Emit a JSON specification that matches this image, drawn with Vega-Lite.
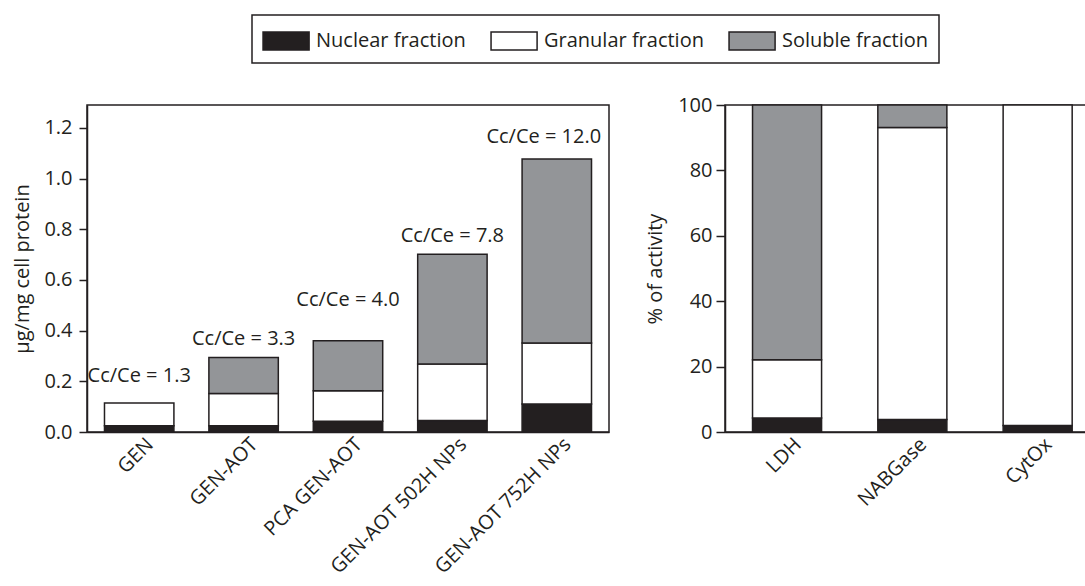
{
  "$schema": "https://vega.github.io/schema/vega-lite/v6.json",
  "padding": {"left": 12, "top": 14, "right": 0, "bottom": 0},
  "background": "white",
  "datasets": {
    "left": [
      {"sample": "GEN", "fraction": "Nuclear fraction", "value": 0.025},
      {"sample": "GEN", "fraction": "Granular fraction", "value": 0.089},
      {"sample": "GEN-AOT", "fraction": "Nuclear fraction", "value": 0.025},
      {"sample": "GEN-AOT", "fraction": "Granular fraction", "value": 0.127},
      {"sample": "GEN-AOT", "fraction": "Soluble fraction", "value": 0.142},
      {"sample": "PCA GEN-AOT", "fraction": "Nuclear fraction", "value": 0.042},
      {"sample": "PCA GEN-AOT", "fraction": "Granular fraction", "value": 0.121},
      {"sample": "PCA GEN-AOT", "fraction": "Soluble fraction", "value": 0.197},
      {"sample": "GEN-AOT 502H NPs", "fraction": "Nuclear fraction", "value": 0.045},
      {"sample": "GEN-AOT 502H NPs", "fraction": "Granular fraction", "value": 0.223},
      {"sample": "GEN-AOT 502H NPs", "fraction": "Soluble fraction", "value": 0.433},
      {"sample": "GEN-AOT 752H NPs", "fraction": "Nuclear fraction", "value": 0.110},
      {"sample": "GEN-AOT 752H NPs", "fraction": "Granular fraction", "value": 0.241},
      {"sample": "GEN-AOT 752H NPs", "fraction": "Soluble fraction", "value": 0.726}
    ],
    "labels": [
      {"sample": "GEN", "label": "Cc/Ce = 1.3", "total": 0.114},
      {"sample": "GEN-AOT", "label": "Cc/Ce = 3.3", "total": 0.294},
      {"sample": "PCA GEN-AOT", "label": "Cc/Ce = 4.0", "total": 0.360},
      {"sample": "GEN-AOT 502H NPs", "label": "Cc/Ce = 7.8", "total": 0.701},
      {"sample": "GEN-AOT 752H NPs", "label": "Cc/Ce = 12.0", "total": 1.077}
    ],
    "right": [
      {"enzyme": "LDH", "fraction": "Nuclear fraction", "value": 4.3},
      {"enzyme": "LDH", "fraction": "Granular fraction", "value": 17.8},
      {"enzyme": "LDH", "fraction": "Soluble fraction", "value": 77.9},
      {"enzyme": "NABGase", "fraction": "Nuclear fraction", "value": 3.8},
      {"enzyme": "NABGase", "fraction": "Granular fraction", "value": 89.3},
      {"enzyme": "NABGase", "fraction": "Soluble fraction", "value": 6.9},
      {"enzyme": "CytOx", "fraction": "Nuclear fraction", "value": 2.0},
      {"enzyme": "CytOx", "fraction": "Granular fraction", "value": 98.0}
    ],
    "fraction_order": [
      {"fraction": "Nuclear fraction", "stack_order": 0},
      {"fraction": "Granular fraction", "stack_order": 1},
      {"fraction": "Soluble fraction", "stack_order": 2}
    ]
  },
  "config": {
    "font": "Open Sans",
    "view": {"stroke": "#231f20", "strokeWidth": 1.5},
    "axis": {
      "labelFont": "Open Sans", "titleFont": "Open Sans",
      "labelFontSize": 20, "titleFontSize": 20, "titleFontWeight": "normal",
      "labelColor": "#231f20", "titleColor": "#231f20",
      "domainColor": "#231f20", "tickColor": "#231f20",
      "domainWidth": 1.5, "tickWidth": 1.5, "grid": false
    },
    "axisX": {"ticks": false, "labelAngle": -45, "title": null, "labelPadding": 2, "labelOffset": 4, "labelLimit": 400},
    "legend": {"strokeWidth": 1.5},
    "text": {"font": "Open Sans", "fontSize": 20, "color": "#231f20"}
  },
  "spacing": 34,
  "resolve": {"scale": {"color": "shared"}, "legend": {"color": "shared"}},
  "hconcat": [
    {
      "width": 522,
      "height": 327,
      "layer": [
        {
          "data": {"name": "left"},
          "transform": [{"lookup": "fraction", "from": {"data": {"name": "fraction_order"}, "key": "fraction", "fields": ["stack_order"]}}],
          "mark": {"type": "bar", "stroke": "#231f20", "strokeWidth": 1.5},
          "encoding": {
            "x": {"field": "sample", "type": "nominal",
              "sort": ["GEN", "GEN-AOT", "PCA GEN-AOT", "GEN-AOT 502H NPs", "GEN-AOT 752H NPs"],
              "scale": {"paddingInner": 0.335, "paddingOuter": 0.1675},
              "axis": {"title": null}},
            "y": {"field": "value", "type": "quantitative", "stack": "zero",
              "scale": {"domain": [0, 1.29], "nice": false},
              "axis": {"title": "µg/mg cell protein", "values": [0, 0.2, 0.4, 0.6, 0.8, 1.0, 1.2], "format": ".1f", "tickSize": 8, "labelPadding": 7, "titlePadding": 11}},
            "order": {"field": "stack_order", "type": "quantitative"},
            "color": {"field": "fraction", "type": "nominal",
              "sort": ["Nuclear fraction", "Granular fraction", "Soluble fraction"],
              "scale": {"domain": ["Nuclear fraction", "Granular fraction", "Soluble fraction"], "range": ["#231f20", "#ffffff", "#939598"]},
              "legend": {
                "orient": "none", "legendX": 165, "legendY": -90,
                "direction": "horizontal", "title": null,
                "strokeColor": "#231f20", "padding": 10,
                "symbolType": "M-1.0,-0.6H2.08V0.6H-1.0Z", "symbolSize": 894,
                "symbolStrokeColor": "#231f20", "symbolStrokeWidth": 1.5, "symbolOpacity": 1,
                "labelFont": "Open Sans", "labelFontSize": 20, "labelColor": "#231f20",
                "labelOffset": 22, "columnPadding": 22, "labelLimit": 300
              }
            }
          }
        },
        {
          "data": {"name": "labels"},
          "transform": [{"filter": {"field": "sample", "oneOf": ["GEN-AOT", "GEN-AOT 502H NPs"]}}],
          "mark": {"type": "text", "baseline": "middle", "dy": -18.5},
          "encoding": {
            "x": {"field": "sample", "type": "nominal", "sort": ["GEN", "GEN-AOT", "PCA GEN-AOT", "GEN-AOT 502H NPs", "GEN-AOT 752H NPs"]},
            "y": {"field": "total", "type": "quantitative"},
            "text": {"field": "label"}
          }
        },
        {
          "data": {"name": "labels"},
          "transform": [{"filter": {"field": "sample", "equal": "GEN"}}],
          "mark": {"type": "text", "baseline": "middle", "dy": -27.5},
          "encoding": {
            "x": {"field": "sample", "type": "nominal", "sort": ["GEN", "GEN-AOT", "PCA GEN-AOT", "GEN-AOT 502H NPs", "GEN-AOT 752H NPs"]},
            "y": {"field": "total", "type": "quantitative"},
            "text": {"field": "label"}
          }
        },
        {
          "data": {"name": "labels"},
          "transform": [{"filter": {"field": "sample", "equal": "PCA GEN-AOT"}}],
          "mark": {"type": "text", "baseline": "middle", "dy": -41},
          "encoding": {
            "x": {"field": "sample", "type": "nominal", "sort": ["GEN", "GEN-AOT", "PCA GEN-AOT", "GEN-AOT 502H NPs", "GEN-AOT 752H NPs"]},
            "y": {"field": "total", "type": "quantitative"},
            "text": {"field": "label"}
          }
        },
        {
          "data": {"name": "labels"},
          "transform": [{"filter": {"field": "sample", "equal": "GEN-AOT 752H NPs"}}],
          "mark": {"type": "text", "baseline": "middle", "dy": -21.5, "dx": -13},
          "encoding": {
            "x": {"field": "sample", "type": "nominal", "sort": ["GEN", "GEN-AOT", "PCA GEN-AOT", "GEN-AOT 502H NPs", "GEN-AOT 752H NPs"]},
            "y": {"field": "total", "type": "quantitative"},
            "text": {"field": "label"}
          }
        }
      ]
    },
    {
      "width": 362,
      "height": 327,
      "data": {"name": "right"},
      "transform": [{"lookup": "fraction", "from": {"data": {"name": "fraction_order"}, "key": "fraction", "fields": ["stack_order"]}}],
      "mark": {"type": "bar", "stroke": "#231f20", "strokeWidth": 1.5},
      "encoding": {
        "x": {"field": "enzyme", "type": "nominal", "sort": ["LDH", "NABGase", "CytOx"],
          "scale": {"paddingInner": 0.449, "paddingOuter": 0.169, "align": 0.65},
          "axis": {"title": null}},
        "y": {"field": "value", "type": "quantitative", "stack": "zero",
          "scale": {"domain": [0, 100], "nice": false},
          "axis": {"title": "% of activity", "values": [0, 20, 40, 60, 80, 100], "tickSize": 9, "labelPadding": 4, "titlePadding": 12}},
        "order": {"field": "stack_order", "type": "quantitative"},
        "color": {"field": "fraction", "type": "nominal",
          "sort": ["Nuclear fraction", "Granular fraction", "Soluble fraction"],
          "scale": {"domain": ["Nuclear fraction", "Granular fraction", "Soluble fraction"], "range": ["#231f20", "#ffffff", "#939598"]}}
      }
    }
  ]
}
